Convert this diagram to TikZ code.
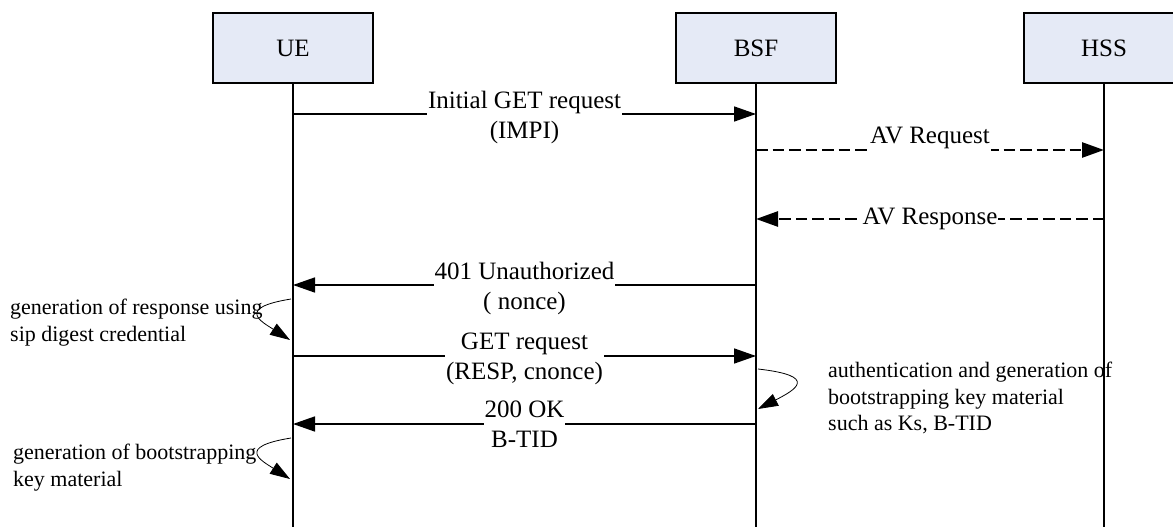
\documentclass[tikz,border=0pt]{standalone}
\usepackage{fontspec}
\setmainfont{Liberation Serif}
\usepackage{tikz}
\usetikzlibrary{arrows.meta, positioning}

\definecolor{boxblue}{RGB}{229,234,246}

\tikzset{
    entity/.style={rectangle, draw, line width=1.5pt, fill=boxblue, minimum width=160pt, minimum height=70pt},
    lifeline/.style={line width=1.5pt},
    msg/.style={-{Triangle[length=22pt, width=15pt]}, line width=1.6pt},
    avmsg/.style={msg, line width=2.6pt, dash pattern=on 11.5pt off 5pt},
    lbl/.style={fill=white, align=center, inner sep=1pt, anchor=north, yshift=25pt},
    lblone/.style={fill=white, inner sep=1pt, anchor=base, yshift=7pt, text depth=9pt},
    selfloop/.style={-{Triangle[length=20pt, width=13pt]}, line width=0.8pt},
    note/.style={align=left, inner sep=0pt, anchor=north west, font=\fontsize{22}{26.5}\selectfont}
}

\begin{document}
\begin{tikzpicture}[x=1pt, y=-1pt, font=\fontsize{25}{30}\selectfont]
        \useasboundingbox (0, 0) rectangle (1173, 527);

        \node[entity] at (293, 48)   (ue) {UE};
        \node[entity] at (756, 48)   (bsf) {BSF};
        \node[entity] at (1104, 48)  (hss) {HSS};

        \coordinate (ue-end) at (293, 527);
        \coordinate (bsf-end) at (756, 527);
        \coordinate (hss-end) at (1104, 527);
        \draw [lifeline] (ue) -- (ue-end);
        \draw [lifeline] (bsf) -- (bsf-end);
        \draw [lifeline] (hss) -- (hss-end);

        \foreach \n/\y in {1/114, 2/150, 3/219, 4/285, 5/356, 6/424} {
            \coordinate (ue-\n) at (293, \y);
            \coordinate (bsf-\n) at (756, \y);
            \coordinate (hss-\n) at (1104, \y);
        }

        \draw [msg] (ue-1) -- node[lbl] {Initial GET request\\(IMPI)} (bsf-1);
        \draw [avmsg] (bsf-2) -- node[lblone] {AV Request} (hss-2);
        \draw [avmsg] (hss-3) -- node[fill=white, inner sep=0.5pt] {AV Response} (bsf-3);
        \draw [msg] (bsf-4) -- node[lbl] {401 Unauthorized\\( nonce)} (ue-4);
        \draw [msg] (ue-5) -- node[lbl] {GET request\\(RESP, cnonce)} (bsf-5);
        \draw [msg] (bsf-6) -- node[lbl] {200 OK\\B-TID} (ue-6);

        % local steps
        \coordinate (ue-a) at (291, 299);
        \coordinate (ue-b) at (290, 340);
        \coordinate (ue-c) at (291, 438);
        \coordinate (ue-d) at (290, 479);
        \coordinate (bsf-a) at (758, 369);
        \coordinate (bsf-b) at (758, 409);
        \draw [selfloop] (ue-a) .. controls (235, 308) and (262, 322) .. (ue-b);
        \draw [selfloop] (ue-c) .. controls (235, 447) and (262, 461) .. (ue-d);
        \draw [selfloop] (bsf-a) .. controls (820, 376) and (795, 390) .. (bsf-b);

        \node[note] at (10, 299)   (resp) {generation of response using\\sip digest credential};
        \node[note] at (13, 444)   (keymat) {generation of bootstrapping\\key material};
        \node[note] at (828, 362)  (auth) {authentication and generation of\\bootstrapping key material\\such as Ks, B-TID};
    \end{tikzpicture}
\end{document}
